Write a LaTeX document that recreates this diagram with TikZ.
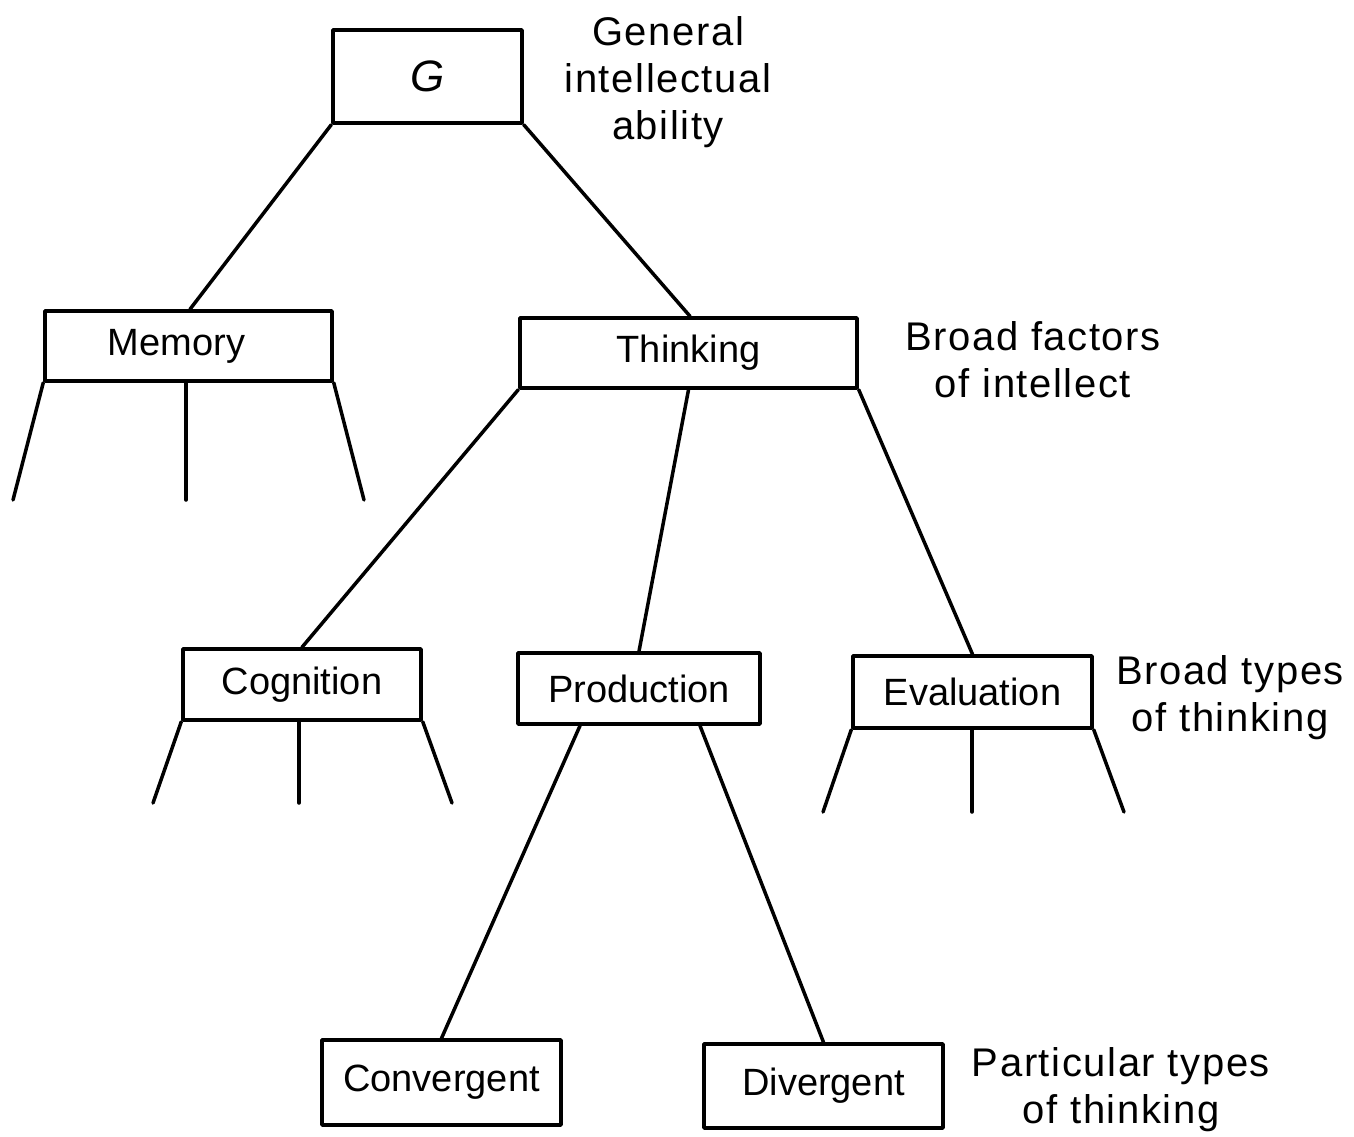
\documentclass[tikz,border=0pt]{standalone}
\usepackage{fontspec}
\setmainfont{Liberation Sans}
\begin{document}
\begin{tikzpicture}[x=1pt,y=-1pt,line width=3.5pt,line cap=round,line join=round,
  box/.style={draw,line width=3.5pt,inner sep=0pt,font=\fontsize{38}{44}\selectfont},
  lab/.style={align=center,inner sep=0pt,font=\fontsize{40}{47}\selectfont\addfontfeature{LetterSpace=4}}]
\useasboundingbox[fill=white] (0,0) rectangle (1354,1137);
% boxes
\node[box,minimum width=189pt,minimum height=93pt] (g) at (427.5,76.5) {\fontsize{44}{50}\selectfont\itshape G};
\node[box,minimum width=287pt,minimum height=70pt] (memory) at (188.5,346) {\raisebox{-3pt}{\hspace*{-24pt}Memory}};
\node[box,minimum width=337pt,minimum height=70pt] (thinking) at (688.5,353) {\raisebox{-3pt}{Thinking}};
\node[box,minimum width=238pt,minimum height=71pt] (cognition) at (302,684.5) {\raisebox{-3pt}{Cognition}};
\node[box,minimum width=242pt,minimum height=71pt] (production) at (639,688.5) {\raisebox{-3pt}{Production}};
\node[box,minimum width=239pt,minimum height=72pt] (evaluation) at (972.5,692) {Evaluation};
\node[box,minimum width=239pt,minimum height=85pt] (convergent) at (441.5,1082.5) {\raisebox{-3pt}{Convergent}};
\node[box,minimum width=239pt,minimum height=84pt] (divergent) at (823.5,1086) {\raisebox{-3pt}{Divergent}};
% labels
\node[lab] (l1) at (668,82) {General\\intellectual\\ability};
\node[lab] (l2) at (1033,360) {Broad factors\\of intellect};
\node[lab] (l3) at (1230,698) {Broad types\\of thinking};
\node[lab] (l4) at (1121,1090) {Particular types\\of thinking};
% free ends
\coordinate (m1) at (13,500);
\coordinate (m2) at (186,500);
\coordinate (m3) at (364,500);
\coordinate (c1) at (153,803);
\coordinate (c2) at (299,803);
\coordinate (c3) at (452,803);
\coordinate (e1) at (823,812);
\coordinate (e2) at (972,812);
\coordinate (e3) at (1124,812);
% connectors
\draw (g.south west) -- ([xshift=1.5pt]memory.north);
\draw (g.south east) -- ([xshift=1.5pt]thinking.north);
\draw (memory.south west) -- (m1);
\draw ([xshift=-2.5pt]memory.south) -- (m2);
\draw (memory.south east) -- (m3);
\draw (thinking.south west) -- (cognition.north);
\draw (thinking.south) -- (production.north);
\draw (thinking.south east) -- (evaluation.north);
\draw (cognition.south west) -- (c1);
\draw ([xshift=-3pt]cognition.south) -- (c2);
\draw (cognition.south east) -- (c3);
\draw (evaluation.south west) -- (e1);
\draw ([xshift=-0.5pt]evaluation.south) -- (e2);
\draw (evaluation.south east) -- (e3);
\draw ([xshift=-59pt]production.south) -- (convergent.north);
\draw ([xshift=61pt]production.south) -- (divergent.north);
\end{tikzpicture}
\end{document}
